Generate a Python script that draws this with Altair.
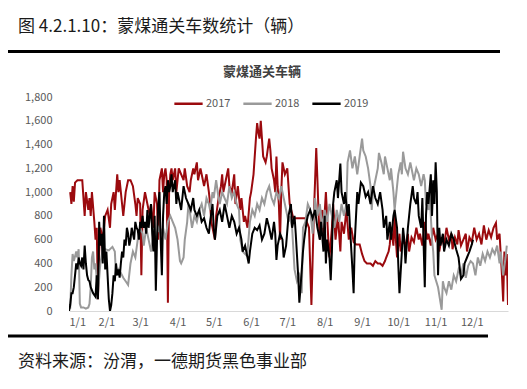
import altair as alt
import pandas as pd

# ---- data (day-of-year offsets from 1/1, and vehicle counts) ----
days_2017 = [1,2,3,4,5,7,9,11,13,14,16,17,18,19,21,22,23,24,25,26,28,30,32,34,35,37,38,40,41,42,44,45,47,49,51,53,55,56,57,59,60,61,63,65,67,68,70,71,73,74,75,77,78,79,80,81,82,83,84,85,86,88,89,91,93,95,96,98,100,101,103,104,106,107,109,110,112,114,116,117,118,119,121,122,124,126,127,128,130,132,133,135,137,138,140,142,143,145,146,148,150,151,153,155,156,157,158,159,160,161,163,164,166,167,168,170,171,172,173,174,175,176,177,179,181,183,186,196,199,201,203,205,206,207,208,210,211,213,215,216,218,219,221,223,225,226,228,230,232,234,236,238,241,243,245,247,250,252,254,256,258,260,262,263,265,266,267,269,270,271,272,274,275,277,279,281,282,284,286,288,290,291,293,295,297,298,300,302,304,306,307,309,311,313,315,317,318,320,322,323,325,327,329,330,332,334,336,338,340,342,344,346,348,350,352,354,355,357,359,360,361,362,363,364]
vals_2017 = [1000,900,1050,920,1080,1100,1100,1100,800,1000,850,950,800,1000,750,600,700,100,500,700,600,800,850,700,900,1000,850,1150,1000,1100,900,800,1000,1100,1100,1050,900,800,950,900,300,850,1000,900,800,900,700,1000,900,600,1100,1200,1000,1150,1200,1100,70,1000,1150,1200,1100,1200,1000,1200,1150,1100,1200,1050,1000,1100,1200,1150,1250,1100,1200,1150,1050,1150,1000,900,750,700,600,800,950,1050,1150,1000,1100,1200,1050,1000,1150,900,1050,850,950,750,800,700,950,1000,1150,1450,1580,1500,1450,1600,1450,1300,1250,1300,1450,1350,1200,1100,1000,1300,1050,900,600,1000,1250,1150,1200,900,780,780,700,50,800,1370,1100,800,600,850,650,1000,600,450,700,900,600,800,500,750,650,850,600,700,580,560,560,480,420,400,400,380,420,400,400,380,420,450,500,560,700,550,800,600,450,650,500,600,550,650,500,620,580,700,600,650,550,750,600,650,550,700,600,650,500,620,550,700,600,650,520,620,560,680,550,600,650,500,620,580,700,600,650,560,720,600,680,620,700,740,600,650,300,80,500,300,480,50]

days_2018 = [1,2,3,4,6,7,8,9,10,12,14,16,17,18,19,20,21,22,24,26,28,30,33,36,38,39,41,43,45,47,49,51,53,55,57,59,61,62,64,66,68,70,72,74,76,78,80,82,84,86,88,90,92,93,95,96,98,99,100,102,104,106,108,110,112,114,116,117,119,120,122,124,125,127,129,131,133,135,137,139,141,142,144,146,147,148,150,152,154,156,158,160,162,164,166,168,170,172,174,176,178,180,182,183,185,187,189,191,193,194,196,198,200,202,204,206,208,210,212,214,216,218,220,222,224,226,228,230,231,233,235,237,239,241,243,244,246,248,250,251,252,254,256,257,259,261,262,264,266,267,269,270,272,273,275,276,277,279,281,283,284,286,288,290,292,294,295,296,298,299,300,301,302,303,306,309,310,311,313,315,317,319,321,323,325,327,329,331,333,335,337,339,341,343,345,347,349,351,353,355,357,358,360,362,363]
vals_2018 = [20,300,480,420,500,450,520,60,30,30,20,30,60,200,450,500,350,400,150,400,520,520,510,540,500,300,350,320,280,250,220,400,500,450,600,700,650,550,700,600,500,650,600,700,650,700,600,750,800,750,700,600,420,400,450,600,750,900,850,700,800,750,850,900,800,950,900,850,1000,950,1100,950,900,1000,950,900,1050,950,1000,900,850,600,500,480,470,500,750,850,800,900,850,950,900,1000,1050,950,900,1000,950,1050,950,850,750,800,700,350,250,300,150,700,750,900,850,650,950,800,900,700,850,750,900,800,700,850,750,900,800,900,1250,1350,1200,1300,1150,1300,1450,1350,1300,1200,1050,850,1000,1100,1200,1330,1250,1150,1300,1200,1100,1200,1000,850,1050,1150,1250,1150,1340,1200,1150,1250,1200,1100,1200,1150,1050,1150,1100,900,850,1000,800,600,500,300,200,10,250,200,150,250,180,300,250,350,300,400,280,380,420,400,300,450,380,480,420,500,450,520,480,550,400,500,300,450,550]

days_2019 = [0,1,2,3,4,5,6,7,8,9,10,11,12,13,14,15,16,17,18,20,22,23,24,25,26,27,28,29,30,31,32,33,34,35,36,37,38,39,40,41,42,43,44,45,46,47,48,49,50,51,52,53,54,55,56,57,58,59,60,61,62,63,64,65,66,68,69,70,71,72,73,74,75,76,77,78,79,80,81,82,83,84,85,86,88,89,90,91,93,95,97,99,101,103,104,106,108,110,112,114,116,117,119,120,121,123,125,127,129,131,133,135,137,139,141,143,144,146,148,149,150,152,154,156,158,160,162,164,166,168,170,171,172,173,175,177,178,180,182,184,185,187,188,190,191,192,194,195,197,198,200,202,204,206,208,209,211,212,213,214,216,217,218,219,220,222,223,225,226,228,229,231,232,233,235,236,237,239,240,242,244,246,248,250,252,254,256,258,260,261,263,264,266,267,269,270,272,273,274,276,277,278,279,281,283,285,286,288,289,290,292,293,295,296,297,298,300,301,302,303,304,305,306,307,308,310,311,313,315,317,319,321,323,325,327,328,330,332,334,335]
vals_2019 = [0,50,150,150,200,300,400,350,450,400,380,450,350,550,400,300,260,250,200,150,120,300,100,750,550,650,400,800,350,500,300,100,0,50,150,300,250,400,300,350,280,400,500,450,600,550,700,650,550,600,700,650,600,750,700,680,600,750,700,800,700,750,650,850,700,900,650,500,800,170,600,900,1000,600,300,800,1000,1050,900,1100,1000,1050,1150,1000,1100,900,1000,950,850,1050,950,900,850,950,850,800,850,750,780,700,650,750,900,700,600,800,850,750,900,800,700,800,750,650,700,600,500,550,450,400,500,650,700,680,720,600,650,780,700,600,750,650,430,550,650,600,450,550,800,900,700,800,650,300,70,200,500,600,750,800,850,780,850,700,600,750,500,800,400,600,450,260,500,900,1000,1100,950,1240,1000,900,1000,800,900,700,350,150,600,1000,900,1080,1050,960,1000,900,1050,950,900,1000,850,700,800,600,750,600,800,850,700,400,150,500,700,600,400,700,900,1050,950,900,1000,800,700,950,200,800,1000,900,1150,800,1100,900,1250,1000,300,700,550,650,500,600,550,650,600,520,450,270,300,400,450,500,560,600]

years = ["2017", "2018", "2019"]
colors = ["#9B0A0E", "#9A9A9A", "#000000"]
month_starts = [0, 31, 59, 90, 120, 151, 181, 212, 243, 273, 304, 334]
y_ticks = [0, 200, 400, 600, 800, 1000, 1200, 1400, 1600, 1800]

frames = []
for yr, d, v in zip(years, [days_2017, days_2018, days_2019], [vals_2017, vals_2018, vals_2019]):
    frames.append(pd.DataFrame({"day": d, "value": v, "year": yr}))
df = pd.concat(frames, ignore_index=True)

FONT = "Noto Sans CJK SC"

label_expr = "(indexof(" + str(month_starts) + ", datum.value) + 1) + '/1'"

lines = alt.Chart(df).mark_line(strokeWidth=2, clip=True).encode(
    x=alt.X("day:Q", scale=alt.Scale(domain=[0, 364], nice=False),
            axis=alt.Axis(values=month_starts, labelExpr=label_expr, title=None,
                          ticks=False, grid=False, domainColor="#d9d9d9",
                          labelFontSize=11, labelColor="#595959", labelPadding=5,
                          labelFont=FONT)),
    y=alt.Y("value:Q", scale=alt.Scale(domain=[0, 1800], nice=False),
            axis=alt.Axis(values=y_ticks, format=",.0f", title=None, ticks=False,
                          grid=False, domain=False, labelFontSize=11,
                          labelColor="#595959", labelPadding=17, labelFont=FONT)),
    color=alt.Color("year:N", scale=alt.Scale(domain=years, range=colors),
                    legend=alt.Legend(title=None, orient="none", legendX=104, legendY=-9,
                                      direction="horizontal", symbolType="stroke",
                                      symbolStrokeWidth=2.5, symbolSize=800,
                                      labelFontSize=11, labelColor="#595959",
                                      labelFont=FONT, columnPadding=7,
                                      labelOffset=2, padding=0)),
    order=alt.Order("year:N"),
    detail="year:N",
)

header = alt.Chart().mark_text(text="图 4.2.1.10：蒙煤通关车数统计（辆）", align="left",
                               baseline="middle", fontSize=17, font=FONT,
                               color="#1a1a1a").encode(x=alt.value(-51), y=alt.value(-70))
top_rule = alt.Chart().mark_rule(strokeWidth=3, color="#000000").encode(
    x=alt.value(-61), x2=alt.value(431), y=alt.value(-45.5))
sub_title = alt.Chart().mark_text(text="蒙煤通关车辆", align="center", baseline="middle",
                                  fontSize=13, fontWeight="bold", font=FONT,
                                  color="#404040").encode(x=alt.value(193), y=alt.value(-25))
bottom_rule = alt.Chart().mark_rule(strokeWidth=3, color="#000000").encode(
    x=alt.value(-61), x2=alt.value(419), y=alt.value(239))
source = alt.Chart().mark_text(text="资料来源：汾渭，一德期货黑色事业部", align="left",
                               baseline="middle", fontSize=17, font=FONT,
                               color="#1a1a1a").encode(x=alt.value(-51), y=alt.value(265))

chart = alt.layer(lines, header, top_rule, sub_title, bottom_rule, source).properties(
    width=439, height=214,
    autosize=alt.AutoSizeParams(type="none"),
    padding={"left": 61, "top": 89, "right": 11, "bottom": 70},
).configure_view(stroke=None)

chart.save("out.html", embed_options={"renderer": "svg", "actions": False})
